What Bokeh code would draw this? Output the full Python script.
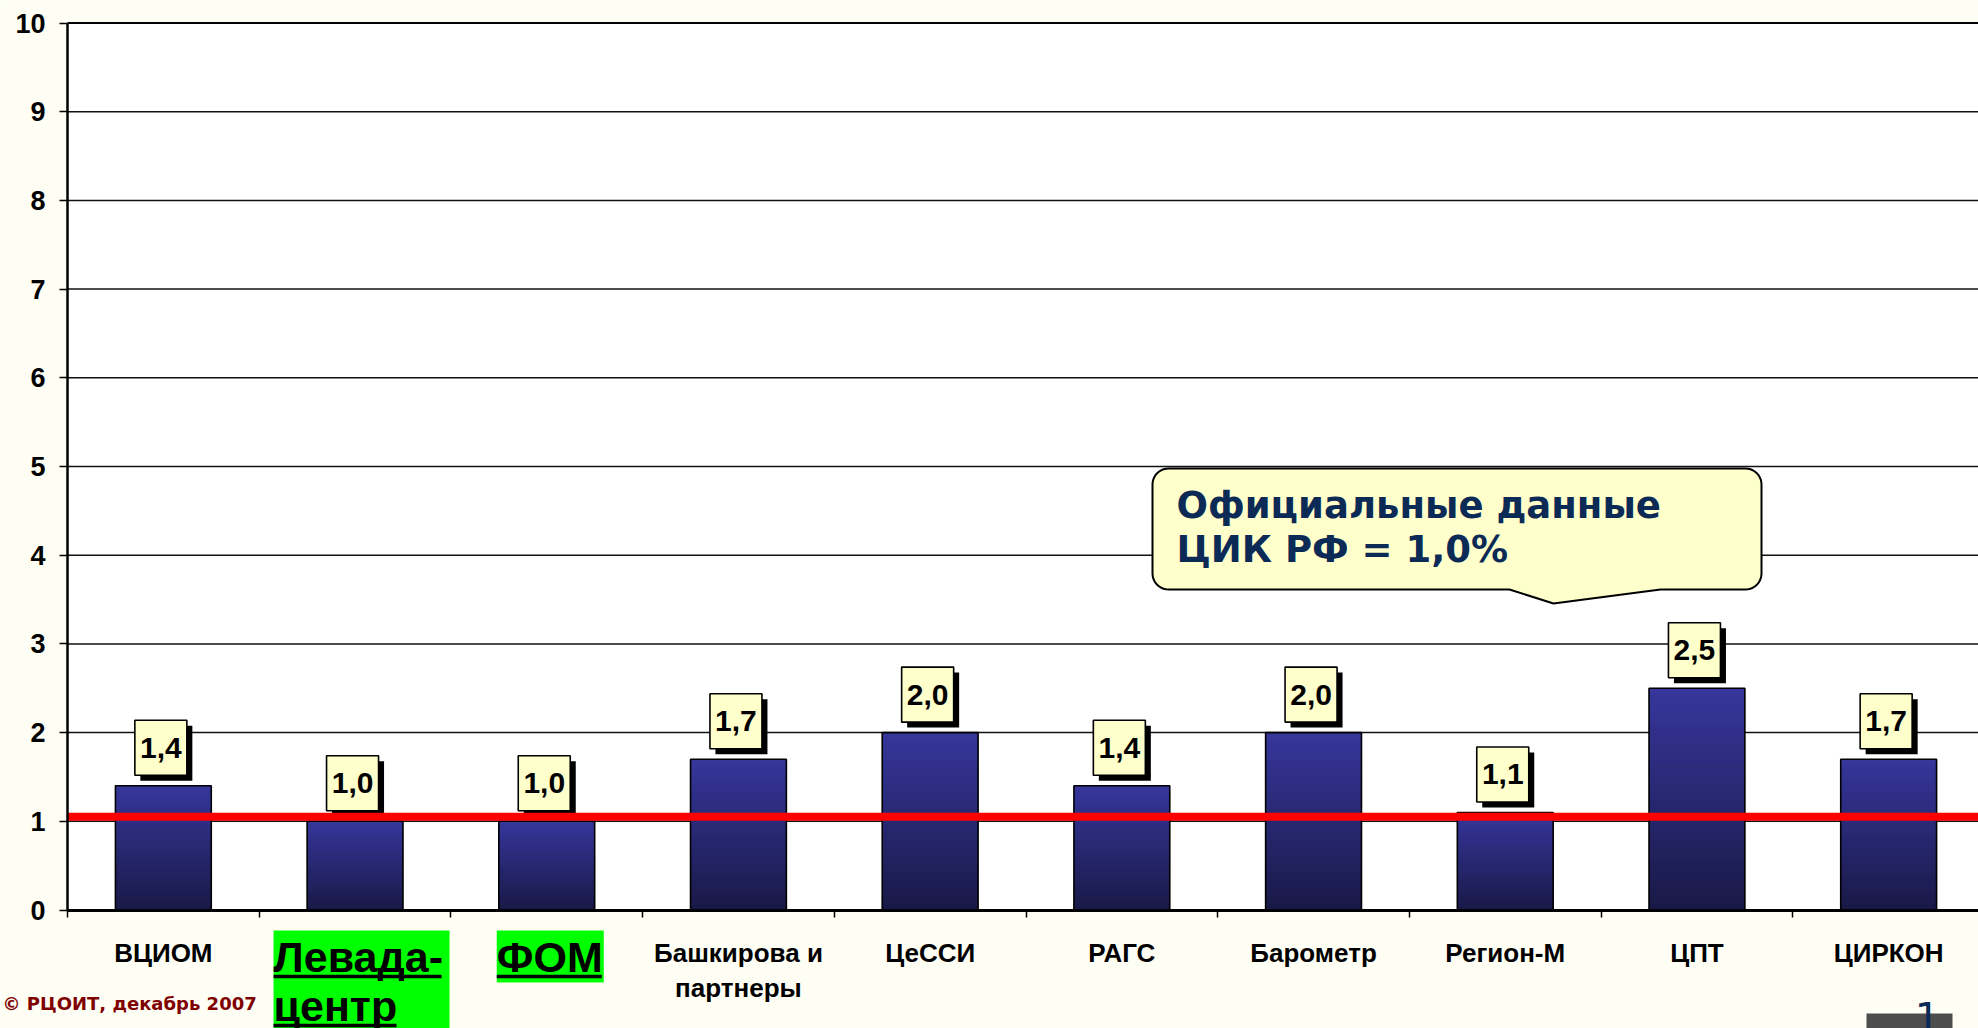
import math
from bokeh.plotting import figure
from bokeh.models import FixedTicker, Range1d
from bokeh.core.properties import value
from bokeh.embed import file_html
from bokeh.resources import INLINE

# ---------------- data ----------------
categories = ["ВЦИОМ", "Левада-\nцентр", "ФОМ", "Башкирова и\nпартнеры", "ЦеССИ",
              "РАГС", "Барометр", "Регион-М", "ЦПТ", "ЦИРКОН"]
values = [1.4, 1.0, 1.0, 1.7, 2.0, 1.4, 2.0, 1.1, 2.5, 1.7]
highlighted = ["Левада-\nцентр", "ФОМ"]
official_level = 1.05
y_ticks = [0, 1, 2, 3, 4, 5, 6, 7, 8, 9, 10]
x_ticks = list(range(0, len(categories) + 1))
callout_lines = ["Официальные данные", "ЦИК РФ = 1,0%"]
copyright_text = "© РЦОИТ, декабрь 2007"
page_number = "1"

# ---------------- layout ----------------
W, H = 1978, 1028
PX_X, PX_Y = 191.7, 88.7          # pixels per data unit
ORIGIN_X, ORIGIN_Y = 67.0, 909.5  # page position of data (0, 0)


def dx(page_x):
    return (page_x - ORIGIN_X) / PX_X


def dy(page_y):
    return (ORIGIN_Y - page_y) / PX_Y


x_start, x_end = dx(0), dx(W)
y_start, y_end = dy(H), dy(0)

BG = "#FEFEF5"
BAR_TOP = (0x36, 0x36, 0x9C)
BAR_BOTTOM = (0x19, 0x19, 0x47)
LABEL_FONT = value("Liberation Sans")
CALLOUT_FONT = value("DejaVu Sans")

p = figure(width=W, height=H, x_range=Range1d(x_start, x_end), y_range=Range1d(y_start, y_end),
           output_backend="svg", toolbar_location=None, min_border=0,
           background_fill_color=BG, border_fill_color=BG, outline_line_color=None)
p.grid.visible = False

# plot area
top_val = max(y_ticks)
p.quad(left=[0], right=[x_end], bottom=[0], top=[top_val], fill_color="white", line_color=None)

# grid lines
inner = y_ticks[1:-1]
p.segment(x0=[0] * len(inner), x1=[x_end] * len(inner), y0=inner, y1=inner,
          line_color="#111111", line_width=1.5)
p.segment(x0=[0], x1=[x_end], y0=[top_val], y1=[top_val], line_color="#000000", line_width=2)

# bars with vertical gradient
N = 32
overlap = 1.5 / PX_Y
gl, gr, gb, gt, gc = [], [], [], [], []
bar_w = 0.5
for i, v in enumerate(values):
    c = i + 0.5
    for k in range(N):
        t = (k + 0.5) / N
        col = tuple(int(round(BAR_BOTTOM[j] + (BAR_TOP[j] - BAR_BOTTOM[j]) * t)) for j in range(3))
        gl.append(c - bar_w / 2)
        gr.append(c + bar_w / 2)
        gb.append(v * k / N)
        gt.append(min(v, v * (k + 1) / N + overlap))
        gc.append("#%02x%02x%02x" % col)
p.quad(left=gl, right=gr, bottom=gb, top=gt, fill_color=gc, line_color=None)
centers = [i + 0.5 for i in range(len(values))]
p.quad(left=[c - bar_w / 2 for c in centers], right=[c + bar_w / 2 for c in centers],
       bottom=[0] * len(values), top=values, fill_color=None, line_color="black", line_width=1.6)

# value label boxes
BOX_W, BOX_H = 52, 55
bx = [c - 2.5 / PX_X for c in centers]
by = [v + 38 / PX_Y for v in values]
p.rect(x=[x + 5.5 / PX_X for x in bx], y=[y - 5.5 / PX_Y for y in by], width=BOX_W, height=BOX_H,
       width_units="screen", height_units="screen", fill_color="black", line_color=None)

# official (red) line
p.segment(x0=[0], x1=[x_end], y0=[official_level], y1=[official_level],
          line_color="#FF0000", line_width=8)

p.rect(x=bx, y=by, width=BOX_W, height=BOX_H, width_units="screen", height_units="screen",
       fill_color="#FFFFCC", line_color="black", line_width=1.6)
p.text(x=bx, y=by, text=[("%.1f" % v).replace(".", ",") for v in values],
       text_font=LABEL_FONT, text_font_style="bold", text_font_size="30px",
       text_align="center", text_baseline="middle", text_color="black")

# category labels
rx, ry, rt = [], [], []
for i, lab in enumerate(categories):
    if lab in highlighted:
        continue
    for k, line in enumerate(lab.split("\n")):
        rx.append(i + 0.5)
        ry.append(dy(952.7 + k * 34.5))
        rt.append(line)
p.text(x=rx, y=ry, text=rt, text_font=LABEL_FONT, text_font_style="bold", text_font_size="26px",
       text_align="center", text_baseline="middle", text_color="black")

# highlighted labels (green, underlined)
hl_layout = {
    "Левада-\nцентр": dict(left=-81.5, right=94.5, bottom=H, widths=[168, 123]),
    "ФОМ": dict(left=-50.0, right=57.0, bottom=982, widths=[105]),
}
for i, lab in enumerate(categories):
    if lab not in highlighted:
        continue
    lay = hl_layout[lab]
    c = i + 0.5
    left = c + lay["left"] / PX_X
    p.quad(left=[left], right=[c + lay["right"] / PX_X], top=[dy(930)], bottom=[dy(lay["bottom"])],
           fill_color="#00FF00", line_color=None)
    lines = lab.split("\n")
    p.text(x=[left] * len(lines), y=[dy(956.6 + k * 49) for k in range(len(lines))], text=lines,
           text_font=LABEL_FONT, text_font_style="bold", text_font_size="43px",
           text_align="left", text_baseline="middle", text_color="black")
    p.segment(x0=[left] * len(lines),
              x1=[left + w / PX_X for w in lay["widths"]],
              y0=[dy(976 + k * 49) for k in range(len(lines))],
              y1=[dy(976 + k * 49) for k in range(len(lines))],
              line_color="black", line_width=3.5)

# callout bubble
L, R, T, B, r = 1152, 1761, 468, 589, 16
tip = (1553, 603)
base_l, base_r = 1509, 1660


def arc(cx, cy, a0, a1, n=10):
    pts = []
    for k in range(n + 1):
        a = math.radians(a0 + (a1 - a0) * k / n)
        pts.append((cx + r * math.cos(a), cy + r * math.sin(a)))
    return pts


pts = [(L + r, T), (R - r, T)]
pts += arc(R - r, T + r, -90, 0)
pts += arc(R - r, B - r, 0, 90)
pts += [(base_r, B), tip, (base_l, B), (L + r, B)]
pts += arc(L + r, B - r, 90, 180)
pts += arc(L + r, T + r, 180, 270)
p.patch(x=[dx(a) for a, b in pts], y=[dy(b) for a, b in pts],
        fill_color="#FFFFCC", line_color="black", line_width=2)
p.text(x=[dx(1176)] * 2, y=[dy(505), dy(549)], text=callout_lines,
       text_font=CALLOUT_FONT, text_font_style="bold", text_font_size="37px",
       text_align="left", text_baseline="middle", text_color="#0B2A55")

# footer
p.text(x=[dx(2)], y=[dy(1003)], text=[copyright_text], text_font=CALLOUT_FONT,
       text_font_style="bold", text_font_size="18px", text_align="left",
       text_baseline="middle", text_color="#800000")
p.quad(left=[dx(1866)], right=[dx(1952)], top=[dy(1013)], bottom=[y_start],
       fill_color="#4D4D4D", line_color=None)
p.text(x=[dx(1927)], y=[dy(1016)], text=[page_number], text_font=CALLOUT_FONT,
       text_font_size="40px", text_align="center", text_baseline="middle", text_color="#0B2A55")

# axes
p.yaxis.fixed_location = 0
p.yaxis.ticker = FixedTicker(ticks=y_ticks)
p.yaxis.bounds = (0, top_val)
p.yaxis.axis_line_width = 2.5
p.yaxis.axis_line_color = "black"
p.yaxis.major_tick_out = 8
p.yaxis.major_tick_in = 0
p.yaxis.major_tick_line_width = 1.5
p.yaxis.minor_tick_line_color = None
p.yaxis.major_label_text_font = "Liberation Sans"
p.yaxis.major_label_text_font_style = "bold"
p.yaxis.major_label_text_font_size = "27px"
p.yaxis.major_label_text_color = "black"
p.yaxis.major_label_standoff = 14

p.xaxis.fixed_location = 0
p.xaxis.ticker = FixedTicker(ticks=[], minor_ticks=x_ticks)
p.xaxis.bounds = (0, x_end)
p.xaxis.axis_line_width = 3
p.xaxis.axis_line_color = "black"
p.xaxis.major_tick_line_color = None
p.xaxis.minor_tick_out = 7
p.xaxis.minor_tick_in = 0
p.xaxis.minor_tick_line_width = 1.5
p.xaxis.minor_tick_line_color = "black"

open("out.html", "w").write(file_html(p, INLINE))
